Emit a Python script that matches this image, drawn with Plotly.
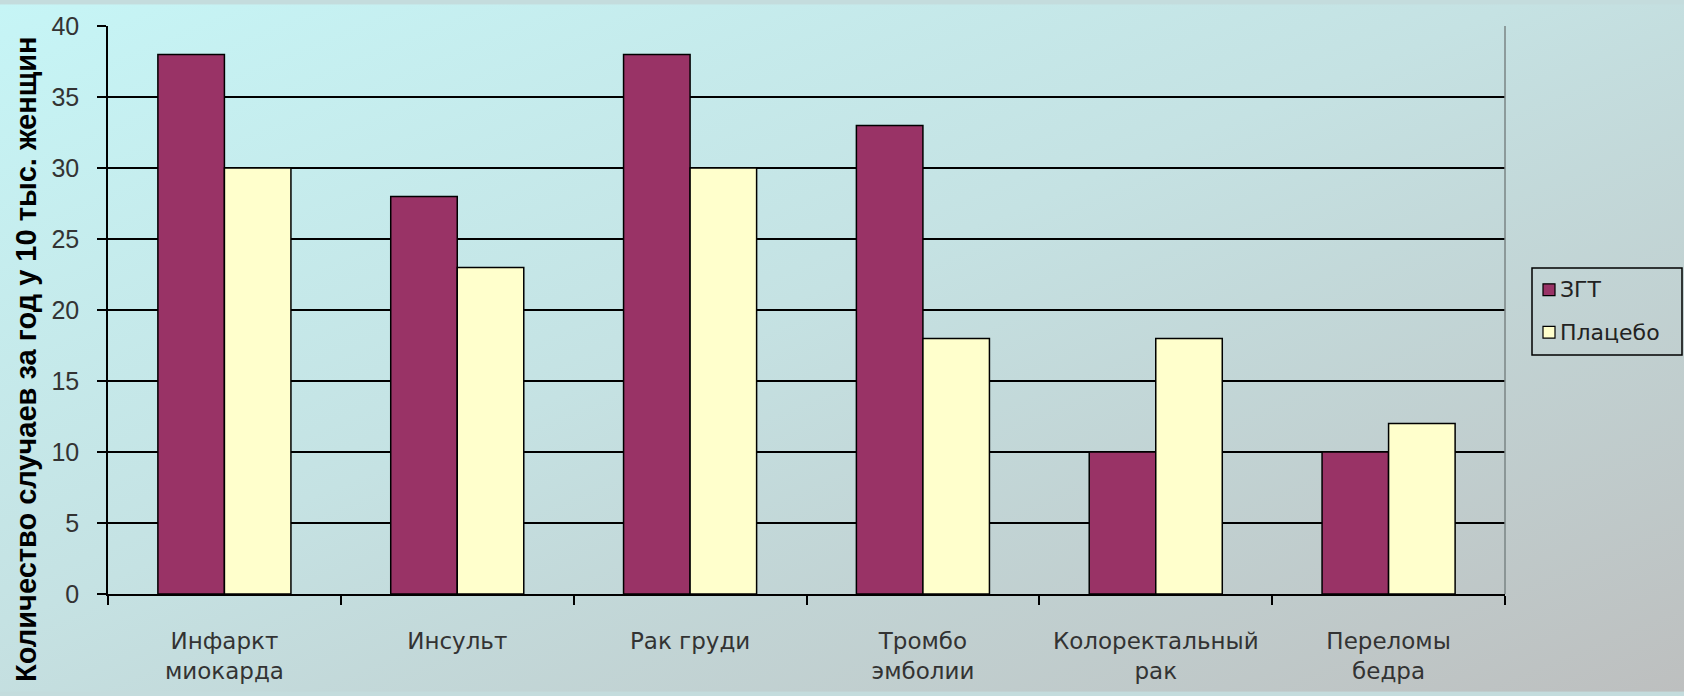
import base64
import plotly.graph_objects as go

# Data
categories = ["Инфаркт<br>миокарда", "Инсульт", "Рак груди",
              "Тромбо<br>эмболии", "Колоректальный<br>рак", "Переломы<br>бедра"]
series_names = ["ЗГТ", "Плацебо"]
hrt_values = [38, 28, 38, 33, 10, 10]
placebo_values = [30, 23, 30, 18, 18, 12]
y_ticks = [0, 5, 10, 15, 20, 25, 30, 35, 40]

series_colors = ["#993366", "#ffffcc"]

W, H = 1684, 696
L, R, T, B = 108, 179, 22, 99
PW, PH = W - L - R, H - T - B

FONT = "Liberation Sans, Arial, sans-serif"
WIDE_FONT = "DejaVu Sans, Verdana, sans-serif"


def px_x(px):
    return (px - L) / PW


def px_y(py):
    return (H - B - py) / PH


# Diagonal cyan-to-grey backdrop as an inline SVG
svg = (
    f'<svg xmlns="http://www.w3.org/2000/svg" width="{W}" height="{H}" viewBox="0 0 {W} {H}" preserveAspectRatio="none">'
    '<defs><linearGradient id="g" x1="0" y1="0" x2="1" y2="1">'
    '<stop offset="0" stop-color="#c6f5f6"/>'
    '<stop offset="0.45" stop-color="#c5e2e3"/>'
    '<stop offset="1" stop-color="#bdbfbf"/>'
    '</linearGradient></defs>'
    f'<rect width="{W}" height="{H}" fill="url(#g)"/></svg>'
)
bg_src = "data:image/svg+xml;base64," + base64.b64encode(svg.encode()).decode()

fig = go.Figure()
for name, values, color in zip(series_names, [hrt_values, placebo_values], series_colors):
    fig.add_trace(go.Bar(
        x=categories, y=values, name=name, showlegend=False,
        marker=dict(color=color, line=dict(color="#000000", width=1.5)),
    ))

# Legend box drawn with shapes and text
shapes = [
    dict(type="line", xref="paper", yref="paper", x0=1, x1=1, y0=0, y1=1,
         line=dict(color="#7a8484", width=1.5)),
    dict(type="rect", xref="paper", yref="paper",
         x0=px_x(1532), x1=px_x(1682), y0=px_y(355), y1=px_y(267),
         line=dict(color="#000000", width=1.5), fillcolor="rgba(0,0,0,0)"),
]
annotations = [dict(
    text="<b>Количество случаев за год у 10 тыс. женщин</b>",
    xref="paper", yref="paper",
    x=px_x(26), y=px_y(360),
    xanchor="center", yanchor="middle", textangle=-90, showarrow=False,
    font=dict(family=FONT, size=29, color="#000000"),
)]
for i, (name, color) in enumerate(zip(series_names, series_colors)):
    cy = 289 + i * 43
    shapes.append(dict(
        type="rect", xref="paper", yref="paper",
        x0=px_x(1543), x1=px_x(1555), y0=px_y(cy + 6), y1=px_y(cy - 6),
        line=dict(color="#000000", width=1.2), fillcolor=color,
    ))
    annotations.append(dict(
        text=name, xref="paper", yref="paper", x=px_x(1558), y=px_y(cy),
        xanchor="left", yanchor="middle", showarrow=False,
        font=dict(family=WIDE_FONT, size=22, color="#222222"),
    ))

fig.update_layout(
    width=W, height=H,
    margin=dict(l=L, r=R, t=T, b=B, pad=0),
    paper_bgcolor="#c4dcdd",
    plot_bgcolor="rgba(0,0,0,0)",
    barmode="group",
    bargap=1.5 / 3.5,
    bargroupgap=0,
    font=dict(family=FONT, size=24, color="#333333"),
    showlegend=False,
    images=[dict(
        source=bg_src, xref="paper", yref="paper",
        x=-L / PW, y=1 + T / PH, sizex=W / PW, sizey=H / PH,
        xanchor="left", yanchor="top", sizing="stretch", layer="below",
    )],
    xaxis=dict(
        type="category", showgrid=False,
        showline=True, linecolor="#000000", linewidth=1.5,
        ticks="outside", tickson="boundaries", ticklen=9, tickwidth=1.5, tickcolor="#000000",
        tickfont=dict(family=WIDE_FONT, size=23, color="#333333"),
        ticklabelstandoff=26,
    ),
    yaxis=dict(
        range=[0, 40], tickvals=y_ticks,
        showgrid=True, gridcolor="#000000", gridwidth=2,
        showline=True, linecolor="#000000", linewidth=1.5,
        ticks="outside", ticklen=9, tickwidth=1.5, tickcolor="#000000",
        tickfont=dict(family=FONT, size=25, color="#333333"),
        ticklabelstandoff=13, zeroline=False,
    ),
    shapes=shapes,
    annotations=annotations,
)

fig.write_html("out.html")
